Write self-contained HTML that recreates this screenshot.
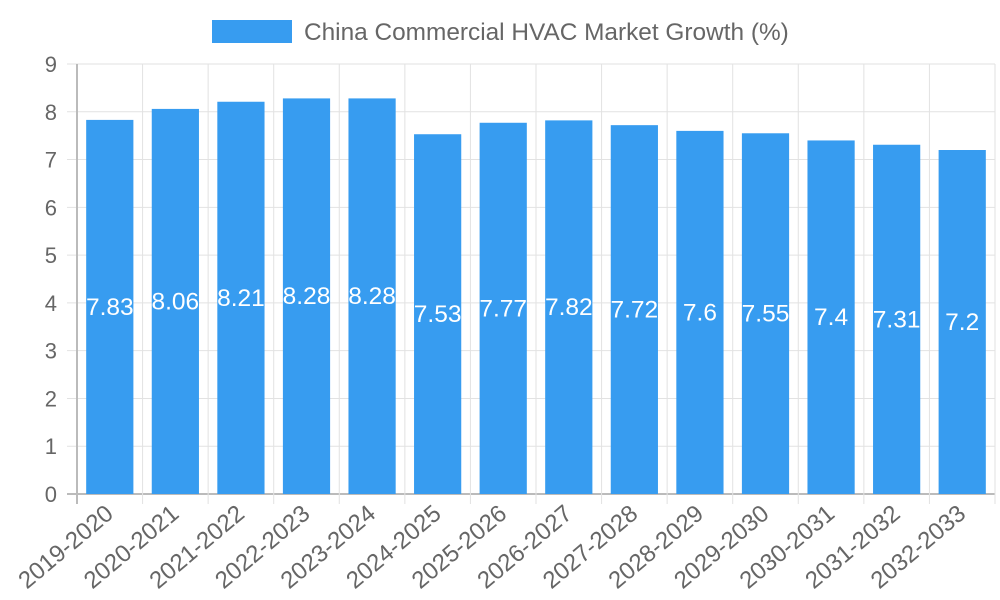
<!DOCTYPE html>
<html><head><meta charset="utf-8"><style>
html,body{margin:0;padding:0;background:#fff;}
svg{display:block;font-family:"Liberation Sans",Arial,sans-serif;}
</style></head><body>
<svg id="chart" width="1000" height="600" viewBox="0 0 1000 600">
<g id="grid"></g>
<g id="bars"></g>
<g id="labels"></g>
<g id="yt"></g>
<g id="xt"></g>
<g>
<rect x="212" y="20" width="80" height="23" fill="#379cf0"/>
<text x="304" y="40" font-size="24.4" fill="#666">China Commercial HVAC Market Growth (%)</text>
</g>
</svg>
<script>
const categories=["2019-2020","2020-2021","2021-2022","2022-2023","2023-2024","2024-2025","2025-2026","2026-2027","2027-2028","2028-2029","2029-2030","2030-2031","2031-2032","2032-2033"];
const values=[7.83,8.06,8.21,8.28,8.28,7.53,7.77,7.82,7.72,7.6,7.55,7.4,7.31,7.2];
const valueLabels=["7.83","8.06","8.21","8.28","8.28","7.53","7.77","7.82","7.72","7.6","7.55","7.4","7.31","7.2"];
const yTicks=[0,1,2,3,4,5,6,7,8,9];
const NS="http://www.w3.org/2000/svg";
const L=77,R=995,T=64,B=494,yMax=9;
const y=v=>B-(v/yMax)*(B-T);
const step=(R-L)/categories.length;
const xc=i=>L+step*(i+0.5);
function mk(tag,attrs,parent){const e=document.createElementNS(NS,tag);for(const k in attrs)e.setAttribute(k,attrs[k]);parent.appendChild(e);return e;}
const grid=document.getElementById('grid'),bars=document.getElementById('bars'),labels=document.getElementById('labels'),yt=document.getElementById('yt'),xt=document.getElementById('xt');
yTicks.forEach(t=>{
  const gl=mk('line',{x1:67,x2:R,y1:y(t),y2:y(t),stroke:t===0?'#bbb':'#e2e2e2','stroke-width':t===0?2:1},grid);
  
  
  const tx=mk('text',{x:57,y:y(t)+8,'text-anchor':'end','font-size':22,fill:'#666'},yt);
  tx.textContent=t;
  
  
});
for(let i=0;i<=categories.length;i++){
  const x=L+step*i;
  const vl=mk('line',{x1:x,x2:x,y1:T,y2:504,stroke:i===0?'#bbb':'#e2e2e2','stroke-width':i===0?2:1},grid);
  
  
}
const bw=step*0.72;
values.forEach((v,i)=>{
  const r=mk('rect',{x:xc(i)-bw/2,y:y(v),width:bw,height:B-y(v),fill:'#379cf0'},bars);
  
  
  const t=mk('text',{x:xc(i),y:(y(v)+B)/2+8,'text-anchor':'middle','font-size':24.5,fill:'#fff'},labels);
  t.textContent=valueLabels[i];
  
  
  const cx=xc(i)+5,cy=516;
  const xl=mk('text',{x:cx,y:cy,'text-anchor':'end','font-size':24,fill:'#666',transform:`rotate(-40 ${cx} ${cy})`},xt);
  xl.textContent=categories[i];
  
  
});
</script>
</body></html>
